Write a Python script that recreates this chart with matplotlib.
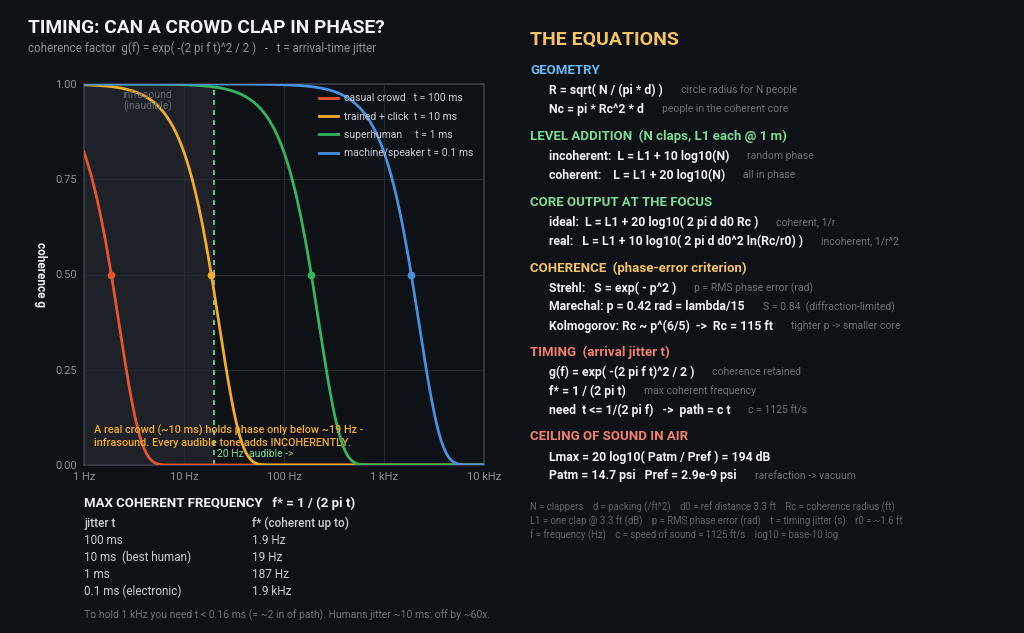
import numpy as np
import matplotlib
matplotlib.use("Agg")
import matplotlib.pyplot as plt

plt.rcParams['font.family'] = ['Roboto', 'DejaVu Sans']

W, H = 1024, 633
BG = '#0e1116'
WHITE = '#f2f3f5'
GRAY = '#8b9098'
DIM = '#6c7179'

# data
jitter_ms = [100, 10, 1, 0.1]
labels = ['casual crowd   t = 100 ms', 'trained + click  t = 10 ms',
          'superhuman     t = 1 ms', 'machine/speaker t = 0.1 ms']
colors = ['#e8542f', '#f0ac2a', '#36b55f', '#4a8fe0']
freq = np.logspace(0, 4, 600)

table_jitter = ['100 ms', '10 ms  (best human)', '1 ms', '0.1 ms (electronic)']
table_fstar = ['1.9 Hz', '19 Hz', '187 Hz', '1.9 kHz']

sections = [
    ('GEOMETRY', '#66b8f0', [
        ('R = sqrt( N / (pi * d) )', 'circle radius for N people'),
        ('Nc = pi * Rc^2 * d', 'people in the coherent core')]),
    ('LEVEL ADDITION  (N claps, L1 each @ 1 m)', '#7dd898', [
        ('incoherent:  L = L1 + 10 log10(N)', 'random phase'),
        ('coherent:    L = L1 + 20 log10(N)', 'all in phase')]),
    ('CORE OUTPUT AT THE FOCUS', '#7dd898', [
        ('ideal:  L = L1 + 20 log10( 2 pi d d0 Rc )', 'coherent, 1/r'),
        ('real:   L = L1 + 10 log10( 2 pi d d0^2 ln(Rc/r0) )', 'incoherent, 1/r^2')]),
    ('COHERENCE  (phase-error criterion)', '#f5c462', [
        ('Strehl:   S = exp( - p^2 )', 'p = RMS phase error (rad)'),
        ('Marechal: p = 0.42 rad = lambda/15', 'S = 0.84  (diffraction-limited)'),
        ('Kolmogorov: Rc ~ p^(6/5)  ->  Rc = 115 ft', 'tighter p -> smaller core')]),
    ('TIMING  (arrival jitter t)', '#f2806c', [
        ('g(f) = exp( -(2 pi f t)^2 / 2 )', 'coherence retained'),
        ('f* = 1 / (2 pi t)', 'max coherent frequency'),
        ('need  t <= 1/(2 pi f)   ->  path = c t', 'c = 1125 ft/s')]),
    ('CEILING OF SOUND IN AIR', '#f2806c', [
        ('Lmax = 20 log10( Patm / Pref ) = 194 dB', ''),
        ('Patm = 14.7 psi   Pref = 2.9e-9 psi', 'rarefaction -> vacuum')]),
]

notes = ['N = clappers    d = packing (/ft^2)    d0 = ref distance 3.3 ft    Rc = coherence radius (ft)',
         'L1 = one clap @ 3.3 ft (dB)    p = RMS phase error (rad)    t = timing jitter (s)    r0 = ~1.6 ft',
         'f = frequency (Hz)    c = speed of sound = 1125 ft/s    log10 = base-10 log']


def px(x, y):
    return x / W, 1 - y / H


fig = plt.figure(figsize=(W / 100, H / 100), dpi=100, facecolor=BG)
renderer = fig.canvas.get_renderer()

# title block
fig.text(*px(28, 28), 'TIMING: CAN A CROWD CLAP IN PHASE?', color=WHITE,
         fontsize=13.8, fontweight='bold', va='center')
fig.text(*px(28, 48), 'coherence factor  g(f) = exp( -(2 pi f t)^2 / 2 )   -   t = arrival-time jitter',
         color=GRAY, fontsize=8.4, va='center')

# chart
ax = fig.add_axes([84 / W, 1 - 465 / H, 400 / W, 381 / H])
ax.set_facecolor(BG)
ax.axvspan(1, 20, color='#1e2127', zorder=0)
for i in range(4):
    t = jitter_ms[i] / 1000
    g = np.exp(-(2 * np.pi * freq * t) ** 2 / 2)
    ax.plot(freq, g, color=colors[i], lw=2, label=labels[i], zorder=3)
    f_half = np.sqrt(2 * np.log(2)) / (2 * np.pi * t)
    ax.plot([f_half], [0.5], 'o', color=colors[i], ms=4.5, zorder=4)

ax.axvline(20, color='#7dd898', lw=1.2, ls=(0, (3, 3)), zorder=2)
ax.set_xscale('log')
ax.set_xlim(1, 10000)
ax.set_ylim(0, 1)
ax.set_xticks([1, 10, 100, 1000, 10000])
ax.set_xticklabels(['1 Hz', '10 Hz', '100 Hz', '1 kHz', '10 kHz'])
ax.set_yticks([0, 0.25, 0.5, 0.75, 1.0])
ax.set_yticklabels(['0.00', '0.25', '0.50', '0.75', '1.00'])
ax.minorticks_off()
ax.tick_params(colors=GRAY, labelsize=8, length=0, pad=5)
ax.grid(True, color='#262a31', lw=0.8, zorder=1)
for s in ax.spines.values():
    s.set_color('#3a3f48')
    s.set_linewidth(1.2)
ax.set_ylabel('coherence g', color=WHITE, fontsize=8.5, fontweight='bold',
              rotation=270, labelpad=12)
ax.yaxis.set_label_coords(-0.125, 0.5)

ax.text(4.3, 0.955, 'infrasound\n(inaudible)', color='#646970', fontsize=7.5,
        ha='center', va='center', linespacing=1.0)
ax.text(1.25, 0.076, 'A real crowd (~10 ms) holds phase only below ~19 Hz -\n'
        'infrasound. Every audible tone adds INCOHERENTLY.', color='#f0ac2a',
        fontsize=7.8, fontweight='medium', va='center', linespacing=1.25, zorder=5)
ax.text(21.5, 0.029, '20 Hz  audible ->', color='#7dd898', fontsize=7.5,
        va='center', zorder=5)

leg = ax.legend(loc='upper right', bbox_to_anchor=(0.997, 1.0), frameon=False,
                fontsize=7.5, handlelength=1.8, handletextpad=0.6, labelspacing=0.8)
for txt in leg.get_texts():
    txt.set_color('#c9ccd1')

# table under chart
fig.text(*px(84, 503), 'MAX COHERENT FREQUENCY   f* = 1 / (2 pi t)', color=WHITE,
         fontsize=9.5, fontweight='bold', va='center')
fig.text(*px(84, 523), 'jitter t', color='#c9ccd1', fontsize=8.5, fontweight='medium', va='center')
fig.text(*px(252, 523), 'f* (coherent up to)', color='#c9ccd1', fontsize=8.5,
         fontweight='medium', va='center')
for i in range(len(table_jitter)):
    y = 541 + i * 16.7
    fig.text(*px(84, y), table_jitter[i], color='#c9ccd1', fontsize=8.5, va='center')
    fig.text(*px(252, y), table_fstar[i], color='#c9ccd1', fontsize=8.5, va='center')
fig.text(*px(84, 615), 'To hold 1 kHz you need t < 0.16 ms (= ~2 in of path). Humans jitter ~10 ms: off by ~60x.',
         color=DIM, fontsize=7.5, va='center')

# equations panel
fig.text(*px(530, 40), 'THE EQUATIONS', color='#f5c462', fontsize=14,
         fontweight='bold', va='center')
header_y = [70, 136, 202, 268, 352, 437]
for (head, hcol, rows), hy in zip(sections, header_y):
    fig.text(*px(530, hy), head, color=hcol, fontsize=9.5, fontweight='bold', va='center')
    for j, (eq, note) in enumerate(rows):
        ey = hy + 20 + j * 19
        t_eq = fig.text(*px(549, ey), eq, color=WHITE, fontsize=8.8, fontweight='bold', va='center')
        if note:
            x_end = t_eq.get_window_extent(renderer).x1
            fig.text(*px(x_end + 18, ey), note, color=DIM, fontsize=7.5, va='center')
for k, line in enumerate(notes):
    fig.text(*px(530, 507 + k * 14), line, color='#5d626a', fontsize=6.9, va='center')

fig.savefig('out.png', dpi=100, facecolor=BG)
